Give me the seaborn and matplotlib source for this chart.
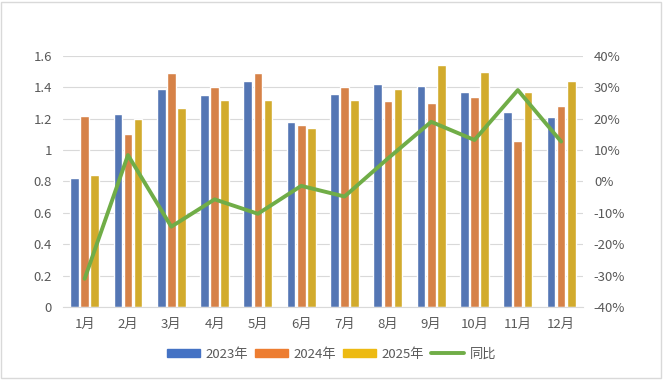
import pandas as pd
import matplotlib
import matplotlib.pyplot as plt
import seaborn as sns
from matplotlib.patches import Rectangle
from matplotlib.ticker import FuncFormatter

matplotlib.use('Agg')

# dados
meses = ["1月", "2月", "3月", "4月", "5月", "6月", "7月", "8月", "9月", "10月", "11月", "12月"]
anos = ["2023年", "2024年", "2025年"]
v2023 = [0.82, 1.23, 1.39, 1.35, 1.44, 1.18, 1.36, 1.42, 1.41, 1.37, 1.24, 1.21]
v2024 = [1.22, 1.10, 1.49, 1.40, 1.49, 1.16, 1.40, 1.31, 1.30, 1.34, 1.06, 1.28]
v2025 = [0.84, 1.20, 1.27, 1.32, 1.32, 1.14, 1.32, 1.39, 1.54, 1.50, 1.37, 1.44]
tongbi = [-31.0, 8.4, -14.4, -5.7, -10.3, -1.4, -4.8, 7.3, 19.0, 13.2, 29.1, 12.7]

cores = ["#4472C4", "#ED7D31", "#EDBA12"]
verde = "#70AD47"
cinza = "#595959"
grade = "#D9D9D9"

sns.set_style("white")
plt.rcParams['font.family'] = ['Noto Sans CJK SC', 'DejaVu Sans']

df = pd.DataFrame({
    "Mes": meses * 3,
    "Ano": [a for a in anos for _ in meses],
    "Valor": v2023 + v2024 + v2025,
})
df_linha = pd.DataFrame({"pos": range(len(meses)), "同比": tongbi})

fig = plt.figure(figsize=(6.63, 3.80), dpi=100)
ax = fig.add_axes([0.095, 0.192, 0.784, 0.661])

sns.barplot(data=df, x="Mes", y="Valor", hue="Ano", palette=cores,
            width=0.7, gap=0.14, order=meses, ax=ax, legend=False, zorder=2)
ax.set_ylim(0, 1.6)
ax.set_yticks([0, 0.2, 0.4, 0.6, 0.8, 1.0, 1.2, 1.4, 1.6])
ax.yaxis.set_major_formatter(FuncFormatter(lambda v, p: f"{v:g}"))
ax.grid(axis="y", color=grade, linewidth=0.8, zorder=0)
ax.set_axisbelow(True)
ax.set_xlabel("")
ax.set_ylabel("")
for s in ["top", "left", "right"]:
    ax.spines[s].set_visible(False)
ax.spines["bottom"].set_color(grade)
ax.tick_params(axis="both", length=0, labelsize=9.5, labelcolor=cinza, pad=8)

ax2 = ax.twinx()
sns.lineplot(data=df_linha, x="pos", y="同比", color=verde, linewidth=2.8, ax=ax2)
ax2.set_ylim(-40, 40)
ax2.set_yticks(range(-40, 41, 10))
ax2.yaxis.set_major_formatter(FuncFormatter(lambda v, p: f"{v:.0f}%"))
ax2.set_xlim(-0.5, len(meses) - 0.5)
ax2.set_ylabel("")
ax2.set_xlabel("")
for s in ax2.spines.values():
    s.set_visible(False)
ax2.tick_params(axis="y", length=0, labelsize=9.5, labelcolor=cinza, pad=8)

# legenda
handles = [Rectangle((0, 0), 1, 1, color=c) for c in cores]
handles.append(plt.Line2D([0], [0], color=verde, linewidth=2.8))
leg = fig.legend(handles, anos + ["同比"], loc="center", bbox_to_anchor=(0.5, 0.068),
                 ncol=4, frameon=False, fontsize=9.5, handlelength=2.5, handleheight=0.6,
                 handletextpad=0.45, columnspacing=0.5)
for t in leg.get_texts():
    t.set_color(cinza)

# borda do gráfico
fig.patches.append(Rectangle((0.002, 0.005), 0.995, 0.99, transform=fig.transFigure,
                             fill=False, edgecolor=grade, linewidth=1))

plt.savefig("out.png", dpi=100)
plt.close()
